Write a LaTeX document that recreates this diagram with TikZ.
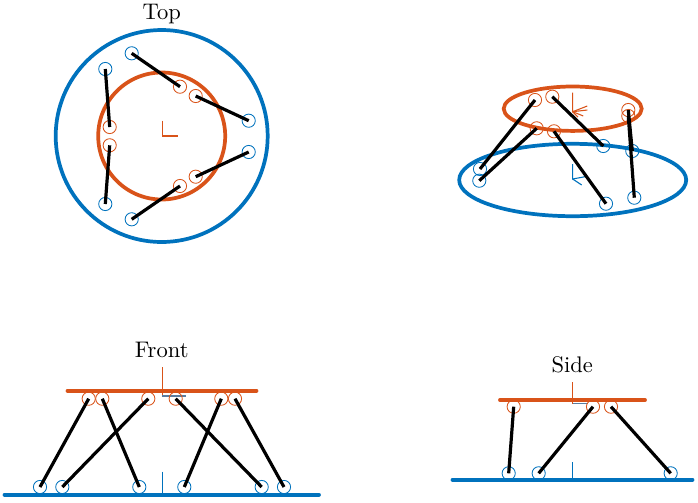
\documentclass[tikz,border=0pt]{standalone}
\usepackage{amsmath}
\usetikzlibrary{calc,positioning}
\definecolor{baseblue}{RGB}{0,114,189}
\definecolor{topred}{RGB}{217,83,25}
\definecolor{axisgray}{RGB}{90,125,160}

\begin{document}
\begin{tikzpicture}[x=0.47pt,y=-0.47pt]
 \useasboundingbox (0,0) rectangle (698,503);

\tikzstyle{base}=[baseblue,line width=1.75pt]
\tikzstyle{plate}=[topred,line width=1.75pt]
\tikzstyle{baseflat}=[baseblue,line width=1.8pt,line cap=round]
\tikzstyle{plateflat}=[topred,line width=1.8pt,line cap=round]
\tikzstyle{bjoint}=[draw=baseblue,circle,line width=0.4pt,inner sep=0pt,minimum size=6.2pt]
\tikzstyle{pjoint}=[draw=topred,circle,line width=0.4pt,inner sep=0pt,minimum size=6.2pt]
\tikzstyle{leg}=[black,line width=1.5pt]
\tikzstyle{baxis}=[baseblue,line width=0.5pt]
\tikzstyle{paxis}=[topred,line width=0.5pt]
\tikzstyle{gaxis}=[axisgray,line width=0.7pt]
\tikzstyle{title}=[scale=1.06]

   %top view
    \node (top_label) [title] at (161.7,14) {Top};
    \draw [base] (161.7,136) circle [radius=106];
    \draw [plate] (161.7,136) circle [radius=63.5];
    \draw [paxis] (162.2,120.7) -- (162.2,136) -- (177.7,136);

    \foreach \nm/\x/\y in {a1/131.7/53.3,a2/248.7/120.7,a3/248.7/152,a4/131.7/219.3,a5/105.3/204,a6/105.3/69}
        \node (\nm) [bjoint] at (\x,\y) {};
    \foreach \nm/\x/\y in {A1/180/86.7,A2/195.7/96,A3/195.7/176.7,A4/180/186,A5/109.7/145.3,A6/109.7/127}
        \node (\nm) [pjoint] at (\x,\y) {};
    \foreach \i in {1,...,6}
        \draw [leg] (a\i.center) -- (A\i.center);

   %iso view
    \draw [base] (572.7,180) ellipse [x radius=113.5,y radius=36.2];
    \draw [plate] (572.7,108.7) ellipse [x radius=69,y radius=22.2];
    \draw [baxis] (572.7,164) -- (572.7,179) -- (585,176.7);
    \draw [baxis] (572.7,179) -- (581.7,185);
    \draw [paxis] (572.7,92.7) -- (572.7,111.7) -- (587.3,106);
    \draw [paxis] (572.7,111.7) -- (587.3,110);
    \draw [paxis] (572.7,111.7) -- (583.3,116);
    \draw [paxis] (572.7,111.7) -- (578,117);

    \foreach \nm/\x/\y in {b1/480/169,b2/479.3/180.7,b3/603.3/146,b4/606/203.7,b5/632.3/151,b6/634.3/197.7}
        \node (\nm) [bjoint] at (\x,\y) {};
    \foreach \nm/\x/\y in {B1/535/100,B2/536.7/128.3,B3/552.3/96.7,B4/554/131.3,B5/628.3/110,B6/628.3/116}
        \node (\nm) [pjoint] at (\x,\y) {};
    \foreach \i in {1,...,6}
        \draw [leg] (b\i.center) -- (B\i.center);

   %front view
    \node (front_label) [title] at (161.7,350) {Front};
    \draw [baseflat] (4.5,494.7) -- (319,494.7);
    \draw [plateflat] (67.5,390.7) -- (256.5,390.7);
    \draw [baxis] (162.2,471.7) -- (162.2,494);
    \draw [paxis] (162.2,367.3) -- (162.2,396);
    \draw [gaxis] (162.2,396) -- (185.7,396);

    \foreach \nm/\x in {c1/40,c2/62.3,c3/139.3,c4/184.3,c5/261.7,c6/284}
        \node (\nm) [bjoint] at (\x,487) {};
    \foreach \nm/\x in {C1/88.7,C2/148.3,C3/102.3,C4/221.3,C5/175.7,C6/235}
        \node (\nm) [pjoint] at (\x,398.7) {};
    \foreach \i in {1,...,6}
        \draw [leg] (c\i.center) -- (C\i.center);

   %side view
    \node (side_label) [title] at (572.3,365) {Side};
    \draw [baseflat] (452.5,479.7) -- (692.5,479.7);
    \draw [plateflat] (500,400) -- (645,400);
    \draw [baxis] (572.8,462.3) -- (572.8,480);
    \draw [paxis] (572.8,382.3) -- (572.8,403.7);
    \draw [gaxis] (572.8,403.7) -- (588,403.7);

    \foreach \nm/\x in {d1/508.7,d2/538.7,d3/670.7}
        \node (\nm) [bjoint] at (\x,473.3) {};
    \foreach \nm/\x in {D1/513.7,D2/593,D3/611}
        \node (\nm) [pjoint] at (\x,406.7) {};
    \foreach \i in {1,2,3}
        \draw [leg] (d\i.center) -- (D\i.center);

\end{tikzpicture}
\end{document}
